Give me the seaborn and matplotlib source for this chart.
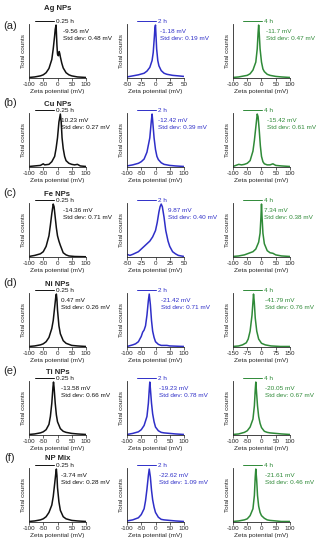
import matplotlib
matplotlib.use("Agg")
import matplotlib.pyplot as plt
import seaborn as sns
import pandas as pd

sns.set_style("ticks")
plt.rcParams['font.family'] = ['Liberation Sans', 'DejaVu Sans']

# ---------------- data ----------------
row_titles = ["Ag NPs", "Cu NPs", "Fe NPs", "Ni NPs", "Ti NPs", "NP Mix"]
row_letters = ["(a)", "(b)", "(c)", "(d)", "(e)", "(f)"]
times = ["0.25 h", "2 h", "4 h"]

means = [["-9.56 mV", "-1.18 mV", "-11.7 mV"],
         ["10.23 mV", "-12.42 mV", "-15.42 mV"],
         ["-14.36 mV", "9.87 mV", "7.34 mV"],
         ["0.47 mV", "-21.42 mV", "-41.79 mV"],
         ["-13.58 mV", "-19.23 mV", "-20.05 mV"],
         ["-3.74 mV", "-22.62 mV", "-21.61 mV"]]
stds = [["0.48 mV", "0.19 mV", "0.47 mV"],
        ["0.27 mV", "0.39 mV", "0.61 mV"],
        ["0.71 mV", "0.40 mV", "0.38 mV"],
        ["0.26 mV", "0.71 mV", "0.76 mV"],
        ["0.66 mV", "0.78 mV", "0.67 mV"],
        ["0.28 mV", "1.09 mV", "0.46 mV"]]

# Ag
ag_a_x = [-100, -80, -60, -50, -40, -30, -20, -15, -10, -8, -5, -2, 0, 3, 6, 8, 10, 15, 20, 30, 40, 50, 70, 100]
ag_a_y = [0.01, 0.02, 0.04, 0.06, 0.10, 0.18, 0.35, 0.55, 0.80, 0.92, 1.00, 0.62, 0.45, 0.42, 0.50, 0.46, 0.40, 0.28, 0.19, 0.10, 0.06, 0.04, 0.02, 0.01]
ag_b_x = [-50, -40, -30, -20, -15, -10, -6, -4, -2, -1, 0, 2, 4, 6, 10, 15, 20, 30, 40, 50]
ag_b_y = [0.02, 0.04, 0.06, 0.09, 0.13, 0.20, 0.33, 0.48, 0.78, 0.95, 1.00, 0.55, 0.33, 0.23, 0.14, 0.09, 0.07, 0.05, 0.04, 0.03]
ag_c_x = [-100, -80, -60, -50, -40, -30, -20, -15, -12, -10, -8, -5, 0, 5, 10, 20, 30, 50, 70, 100]
ag_c_y = [0.01, 0.02, 0.04, 0.05, 0.08, 0.15, 0.30, 0.55, 0.85, 1.00, 0.85, 0.55, 0.30, 0.17, 0.12, 0.07, 0.05, 0.03, 0.02, 0.01]
# Cu
cu_a_x = [-100, -80, -60, -50, -45, -30, -20, -10, -5, 0, 5, 10, 13, 16, 20, 25, 30, 40, 50, 60, 70, 80, 100]
cu_a_y = [0.01, 0.02, 0.03, 0.06, 0.04, 0.05, 0.10, 0.20, 0.35, 0.55, 0.85, 1.00, 0.85, 0.55, 0.35, 0.20, 0.12, 0.07, 0.05, 0.04, 0.05, 0.02, 0.01]
cu_b_x = [-100, -80, -60, -50, -40, -30, -20, -15, -12, -10, -5, 0, 5, 10, 20, 30, 50, 70, 100]
cu_b_y = [0.02, 0.04, 0.07, 0.10, 0.15, 0.28, 0.55, 0.85, 1.00, 0.88, 0.55, 0.33, 0.20, 0.14, 0.08, 0.05, 0.03, 0.02, 0.01]
cu_c_x = [-100, -90, -80, -70, -60, -50, -40, -30, -25, -20, -15, -12, -8, -4, 0, 5, 10, 20, 30, 40, 50, 70, 100]
cu_c_y = [0.01, 0.03, 0.05, 0.04, 0.05, 0.07, 0.12, 0.30, 0.50, 0.75, 1.00, 0.95, 0.70, 0.40, 0.20, 0.10, 0.06, 0.04, 0.04, 0.06, 0.03, 0.02, 0.01]
# Fe
fe_a_x = [-100, -80, -60, -50, -40, -30, -25, -20, -15, -12, -8, -4, 0, 5, 10, 15, 20, 30, 40, 60, 100]
fe_a_y = [0.01, 0.03, 0.06, 0.10, 0.20, 0.40, 0.60, 0.82, 1.00, 0.95, 0.75, 0.55, 0.40, 0.30, 0.22, 0.15, 0.08, 0.04, 0.02, 0.01, 0.005]
fe_b_x = [-50, -45, -40, -30, -25, -20, -15, -10, -5, 0, 3, 6, 8, 10, 12, 15, 18, 22, 25, 30, 35, 40, 50]
fe_b_y = [0.05, 0.03, 0.05, 0.10, 0.15, 0.20, 0.25, 0.30, 0.38, 0.50, 0.65, 0.85, 0.95, 1.00, 0.95, 0.75, 0.50, 0.30, 0.20, 0.10, 0.06, 0.03, 0.01]
fe_c_x = [-100, -80, -60, -50, -40, -30, -20, -10, -5, -2, 0, 2, 5, 10, 20, 30, 40, 50, 70, 100]
fe_c_y = [0.01, 0.02, 0.04, 0.06, 0.08, 0.10, 0.15, 0.28, 0.45, 0.75, 1.00, 0.75, 0.45, 0.25, 0.12, 0.08, 0.07, 0.04, 0.02, 0.01]
# Ni
ni_a_x = [-100, -80, -60, -50, -40, -30, -20, -15, -10, -6, -4, -2, 0, 5, 10, 20, 30, 50, 70, 100]
ni_a_y = [0.01, 0.02, 0.04, 0.06, 0.10, 0.18, 0.35, 0.50, 0.75, 0.95, 1.00, 0.90, 0.70, 0.40, 0.25, 0.12, 0.07, 0.03, 0.02, 0.01]
ni_b_x = [-100, -80, -70, -60, -50, -45, -40, -35, -30, -25, -22, -18, -14, -10, -5, 0, 10, 20, 40, 50, 100]
ni_b_y = [0.01, 0.04, 0.06, 0.10, 0.20, 0.28, 0.32, 0.40, 0.60, 0.88, 1.00, 0.80, 0.50, 0.30, 0.18, 0.10, 0.05, 0.03, 0.03, 0.02, 0.01]
ni_c_x = [-150, -120, -100, -80, -70, -60, -50, -45, -42, -38, -33, -25, -15, 0, 20, 50, 100, 150]
ni_c_y = [0.01, 0.02, 0.04, 0.08, 0.15, 0.30, 0.60, 0.85, 1.00, 0.85, 0.55, 0.30, 0.15, 0.07, 0.04, 0.02, 0.01, 0.01]
# Ti
ti_a_x = [-100, -80, -60, -50, -40, -30, -25, -20, -16, -14, -12, -8, -4, 0, 10, 20, 30, 50, 70, 100]
ti_a_y = [0.01, 0.02, 0.04, 0.06, 0.10, 0.20, 0.35, 0.60, 0.90, 1.00, 0.90, 0.60, 0.38, 0.25, 0.12, 0.07, 0.05, 0.03, 0.02, 0.01]
ti_b_x = [-100, -80, -60, -50, -40, -30, -25, -22, -20, -18, -14, -10, -5, 0, 10, 20, 30, 50, 70, 100]
ti_b_y = [0.01, 0.03, 0.06, 0.10, 0.18, 0.35, 0.60, 0.85, 1.00, 0.88, 0.60, 0.40, 0.25, 0.15, 0.08, 0.05, 0.04, 0.03, 0.02, 0.01]
ti_c_x = [-100, -80, -60, -50, -40, -30, -25, -22, -20, -18, -14, -10, -5, 0, 10, 20, 30, 50, 70, 100]
ti_c_y = [0.01, 0.02, 0.05, 0.08, 0.15, 0.30, 0.55, 0.85, 1.00, 0.85, 0.55, 0.35, 0.22, 0.14, 0.07, 0.05, 0.04, 0.03, 0.02, 0.01]
# Mix
mix_a_x = [-100, -80, -60, -50, -40, -30, -20, -15, -10, -6, -4, -2, 0, 5, 10, 20, 30, 50, 70, 100]
mix_a_y = [0.01, 0.02, 0.04, 0.06, 0.10, 0.18, 0.32, 0.48, 0.72, 0.92, 1.00, 0.88, 0.65, 0.38, 0.22, 0.10, 0.06, 0.03, 0.02, 0.01]
mix_b_x = [-100, -80, -60, -50, -40, -35, -30, -25, -22, -18, -14, -10, -5, 0, 10, 20, 30, 50, 70, 100]
mix_b_y = [0.02, 0.04, 0.08, 0.14, 0.25, 0.40, 0.62, 0.88, 1.00, 0.85, 0.60, 0.42, 0.28, 0.18, 0.09, 0.05, 0.04, 0.03, 0.02, 0.01]
mix_c_x = [-100, -80, -60, -50, -40, -30, -25, -22, -20, -17, -14, -10, -5, 0, 10, 20, 30, 50, 70, 100]
mix_c_y = [0.01, 0.02, 0.04, 0.06, 0.12, 0.25, 0.50, 0.85, 1.00, 0.80, 0.50, 0.30, 0.18, 0.12, 0.07, 0.04, 0.03, 0.02, 0.01, 0.01]

curves = [[(ag_a_x, ag_a_y), (ag_b_x, ag_b_y), (ag_c_x, ag_c_y)],
          [(cu_a_x, cu_a_y), (cu_b_x, cu_b_y), (cu_c_x, cu_c_y)],
          [(fe_a_x, fe_a_y), (fe_b_x, fe_b_y), (fe_c_x, fe_c_y)],
          [(ni_a_x, ni_a_y), (ni_b_x, ni_b_y), (ni_c_x, ni_c_y)],
          [(ti_a_x, ti_a_y), (ti_b_x, ti_b_y), (ti_c_x, ti_c_y)],
          [(mix_a_x, mix_a_y), (mix_b_x, mix_b_y), (mix_c_x, mix_c_y)]]

ticks_100 = [-100, -50, 0, 50, 100]
ticks_50 = [-50, -25, 0, 25, 50]
ticks_150 = [-150, -75, 0, 75, 150]
panel_ticks = [[ticks_100, ticks_50, ticks_100],
               [ticks_100, ticks_100, ticks_100],
               [ticks_100, ticks_50, ticks_100],
               [ticks_100, ticks_100, ticks_150],
               [ticks_100, ticks_100, ticks_100],
               [ticks_100, ticks_100, ticks_100]]

# ---------------- styling ----------------
colors = ["#111111", "#2f2fc8", "#2f8a38"]
W, H = 318, 550
fig = plt.figure(figsize=(W / 100, H / 100), dpi=100)

col_left = [29, 127, 233]
ax_w = 57
ax_h = 54
row_bottom = [78, 167, 257, 347, 435, 522]
ann_x = [[0.59, 0.58, 0.58], [0.57, 0.55, 0.6], [0.6, 0.72, 0.55],
         [0.57, 0.6, 0.57], [0.57, 0.57, 0.57], [0.57, 0.57, 0.57]]

for r in range(6):
    for c in range(3):
        left = col_left[c] / W
        bottom = 1 - row_bottom[r] / H
        ax = fig.add_axes([left, bottom, ax_w / W, ax_h / H])
        xs, ys = curves[r][c]
        df = pd.DataFrame({"x": xs, "y": ys})
        sns.lineplot(data=df, x="x", y="y", ax=ax, color=colors[c], linewidth=1.1,
                     label=times[c], sort=True)
        t = panel_ticks[r][c]
        ax.set_xlim(t[0], t[-1])
        ax.set_xticks(t)
        ax.set_xticklabels([str(v) for v in t], fontsize=4.5)
        ax.set_ylim(0, max(ys) * 1.02)
        ax.set_yticks([])
        ax.set_xlabel("Zeta potential (mV)", fontsize=4.6, labelpad=1)
        ax.set_ylabel("Total counts", fontsize=4.6, labelpad=2)
        ax.tick_params(axis="x", length=2, width=0.5, pad=1)
        for s in ["top", "right"]:
            ax.spines[s].set_visible(False)
        for s in ["left", "bottom"]:
            ax.spines[s].set_linewidth(0.6)
        leg = ax.legend(loc="lower center", bbox_to_anchor=(0.44, 1.0), frameon=False,
                        fontsize=4.6, handlelength=3.0, handletextpad=0.3,
                        borderpad=0, borderaxespad=0)
        for line in leg.get_lines():
            line.set_linewidth(0.7)
        for txt in leg.get_texts():
            txt.set_color(colors[c])
        ax.text(ann_x[r][c], 0.86, means[r][c], transform=ax.transAxes,
                fontsize=4.6, color=colors[c], va="center", ha="left")
        ax.text(ann_x[r][c], 0.73, "Std dev: " + stds[r][c], transform=ax.transAxes,
                fontsize=4.6, color=colors[c], va="center", ha="left")
    # row title and panel letter
    title_y = row_bottom[r] - ax_h - 15 if r == 0 else row_bottom[r] - ax_h - 9
    fig.text((col_left[0] + ax_w / 2) / W, 1 - title_y / H, row_titles[r],
             fontsize=5.6, fontweight="bold", ha="center", va="center")
    letter_y = row_bottom[r] - ax_h + 2 if r == 0 else row_bottom[r] - ax_h - 10
    fig.text(10 / W, 1 - letter_y / H, row_letters[r], fontsize=8, ha="center", va="center")

fig.savefig("out.png", dpi=100)
